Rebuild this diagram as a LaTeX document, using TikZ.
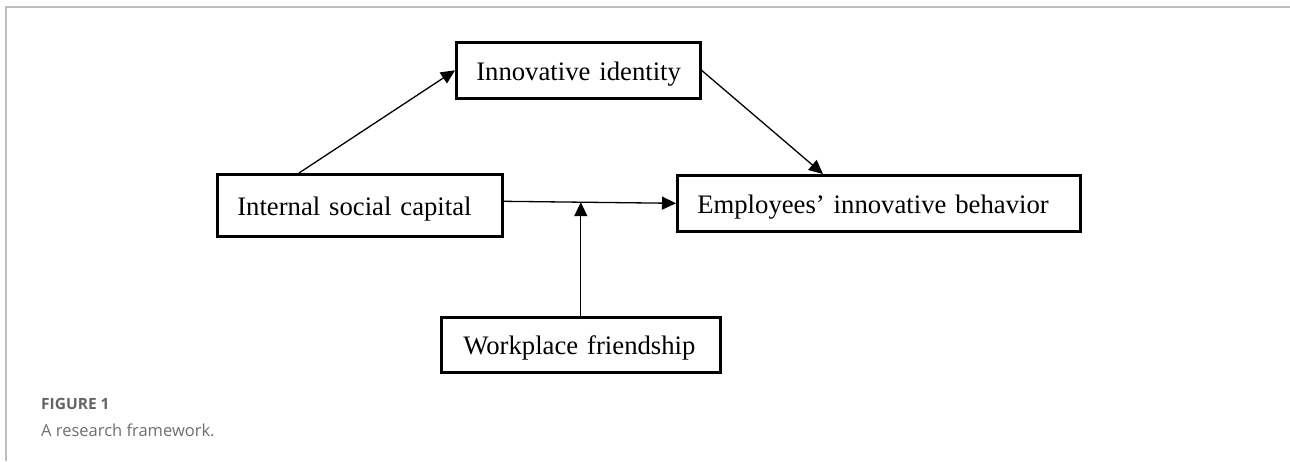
\documentclass[tikz,border=0pt]{standalone}
\usepackage{fontspec}
\setmainfont{Liberation Serif}
\newfontfamily\capfont{Open Sans}
\usetikzlibrary{arrows.meta,calc}
\definecolor{framegray}{RGB}{190,190,190}
\definecolor{labelgray}{RGB}{100,100,100}
\definecolor{captiongray}{RGB}{110,110,110}

\begin{document}
\begin{tikzpicture}[x=1pt,y=-1pt,
  box/.style={draw, line width=2.6pt, anchor=north west, inner xsep=20pt,
    inner ysep=0pt, align=left, text height=20pt, text depth=0pt,
    font=\fontsize{26.7}{30}\selectfont},
  link/.style={line width=1.3pt, -{Triangle[length=14pt,width=13pt]}},
  frameline/.style={draw=framegray, line width=1.4pt}]

  \useasboundingbox (0,0) rectangle (1290,461);

  % panel frame (top and left edges)
  \draw[frameline] (1290,7) -- (6,7) -- (6,461);

  % construct boxes
  \node[box, text width=204pt, minimum height=56pt]
    (ii) at (455,41) {\mbox{Innovative identity}};
  \node[box, text width=245pt, minimum height=62pt]
    (isc) at (216,173) {\mbox{Internal social capital}};
  \node[box, text width=363pt, minimum height=56pt]
    (eib) at (676,174) {\mbox{Employees’ innovative behavior}};
  \node[box, inner xsep=22pt, text width=235pt, minimum height=55pt]
    (wf) at (440,316) {\mbox{Workplace friendship}};

  % paths between constructs
  \draw[link] ([xshift=83pt]isc.north west) -- (ii.west);
  \draw[link] (ii.east) -- ([xshift=147pt]eib.north west);
  \draw[link] ([yshift=4pt]isc.east) -- (eib.west);
  \coordinate (meet) at ($([yshift=4pt]isc.east)!0.457!(eib.west)$);
  \draw[link] (wf.north) -- (wf.north |- meet);

  % caption
  \node[anchor=west, inner sep=0pt, text=labelgray,
    font=\capfont\bfseries\fontsize{15.5}{18}\selectfont]
    (figlabel) at (41,404) {FIGURE 1};
  \node[anchor=west, inner sep=0pt, text=captiongray,
    font=\capfont\fontsize{16.5}{19}\selectfont]
    (figcaption) at (41,430) {A research framework.};
\end{tikzpicture}
\end{document}
